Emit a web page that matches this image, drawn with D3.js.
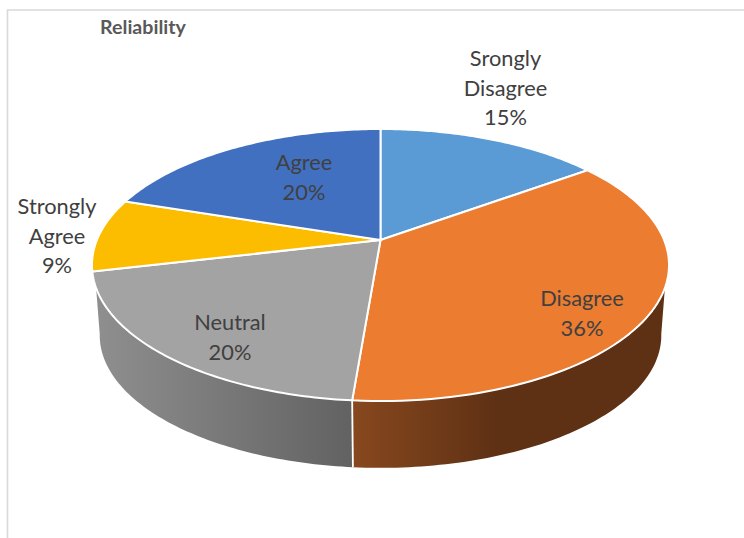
<!DOCTYPE html>
<html>
<head>
<meta charset="utf-8">
<script src="https://cdn.jsdelivr.net/npm/d3@7"></script>
<style>
html,body{margin:0;padding:0;background:#fff;overflow:hidden}
svg{display:block}
text{font-family:Lato,"Open Sans",sans-serif}
</style>
</head>
<body>
<script>
const title = "Reliability";
const categories = ["Srongly Disagree", "Disagree", "Neutral", "Strongly Agree", "Agree"];
const values = [15, 36.3, 20, 8.7, 20];
const percentLabels = ["15%", "36%", "20%", "9%", "20%"];
const labelLines = [["Srongly", "Disagree"], ["Disagree"], ["Neutral"], ["Strongly", "Agree"], ["Agree"]];
const colors = ["#5b9bd5", "#eb7c30", "#a3a3a3", "#fcbd00", "#4170c0"];

const W = 744, H = 538;
const svg = d3.select("body").append("svg").attr("width", W).attr("height", H);

// Frame
svg.append("path").attr("d", `M7.5 ${H}V10H${W}`).attr("fill", "none")
  .attr("stroke", "#d9d9d9").attr("stroke-width", 1.6);

// Perspective projection of a circle on a horizontal plane
const k = -0.184;
function plane(cx, cy, A, B) {
  return (theta, r = 1) => {
    const u = r * Math.sin(theta), v = -r * Math.cos(theta), d = 1 + k * v;
    return [cx + A * u / d, cy + B * v / d];
  };
}
const topPlane = plane(380.5, 240, 283.6, 131.4);
const basePlane = plane(380.5, 311, 276, 128);

const deg = d => d * Math.PI / 180;
const line = d3.line();
const arcSamples = (proj, a, b) => d3.range(0, 1.0001, 1 / 80).map(t => proj(a + (b - a) * t));

const arcs = d3.pie().sort(null).value(d => d)(values);

const defs = svg.append("defs");
function gradient(id, x1, x2, c1, c2) {
  const g = defs.append("linearGradient").attr("id", id).attr("gradientUnits", "userSpaceOnUse")
    .attr("x1", x1).attr("x2", x2).attr("y1", 0).attr("y2", 0);
  g.append("stop").attr("offset", 0).attr("stop-color", c1);
  g.append("stop").attr("offset", 1).attr("stop-color", c2);
}
gradient("wallOrange", 353, 500, "#87481e", "#5e3014");
gradient("wallGrey", 95, 352, "#8f8f8f", "#626262");

// Walls: silhouette angles on the rim and on the base
const rimRight = deg(110), rimLeft = deg(250), baseRight = deg(100), baseLeft = deg(260);
const split = arcs[1].endAngle;
const walls = [
  {fill: "url(#wallOrange)", rim: [rimRight, split], base: [split, baseRight]},
  {fill: "url(#wallGrey)", rim: [split, rimLeft], base: [baseLeft, split]}
];
svg.selectAll("path.wall").data(walls).join("path").attr("class", "wall")
  .attr("fill", d => d.fill)
  .attr("d", d => line([...arcSamples(topPlane, d.rim[0], d.rim[1]), ...arcSamples(basePlane, d.base[0], d.base[1])]) + "Z");
svg.append("path").attr("d", line([topPlane(split), basePlane(split)]))
  .attr("stroke", "#fff").attr("stroke-width", 1.8).attr("fill", "none");

// Top face
svg.selectAll("path.slice").data(arcs).join("path").attr("class", "slice")
  .attr("fill", (d, i) => colors[i])
  .attr("stroke", "#fff").attr("stroke-width", 2).attr("stroke-linejoin", "round")
  .attr("d", d => line([topPlane(0, 0), ...arcSamples(topPlane, d.startAngle, d.endAngle)]) + "Z");

// Title
svg.append("text").text(title).attr("x", 143).attr("y", 34).attr("text-anchor", "middle")
  .attr("font-size", 19.6).attr("font-weight", 700).attr("fill", "#595959");

// Data labels: centre x and first baseline
const labelAnchors = [[505.5, 66], [582, 306], [230, 330], [57, 214], [304, 170]];
const lineStep = 29.6;
categories.forEach((c, i) => {
  const lines = [...labelLines[i], percentLabels[i]];
  svg.append("text").attr("aria-label", c).attr("text-anchor", "middle")
    .attr("font-size", 21.8).attr("fill", "#404040")
    .selectAll("tspan").data(lines).join("tspan")
    .attr("x", labelAnchors[i][0])
    .attr("y", (d, j) => labelAnchors[i][1] + j * lineStep)
    .text(d => d);
});
</script>
</body>
</html>
